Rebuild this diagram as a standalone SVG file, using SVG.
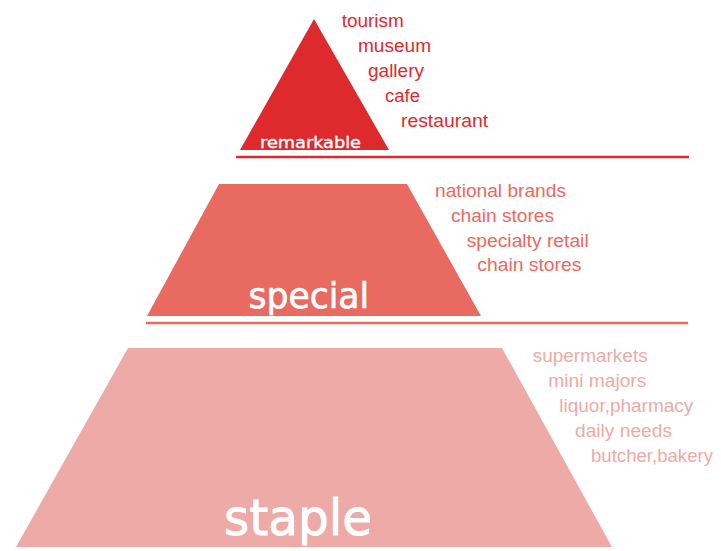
<svg xmlns="http://www.w3.org/2000/svg" width="721" height="551" viewBox="0 0 721 551">
<style>
.lbl{font-family:"DejaVu Sans","Liberation Sans",sans-serif;fill:#ffffff;stroke:#ffffff;}
.it{font-family:"Liberation Sans",Arial,sans-serif;font-size:17.5px;}
.c1{fill:#de292d;}
.c2{fill:#e96a60;}
.c3{fill:#eeaaa6;}
</style>
<rect width="721" height="551" fill="#ffffff"/>
<g id="connectors">
<line x1="236" y1="157" x2="689" y2="157" stroke="#de292d" stroke-width="2.5"/>
<line x1="146" y1="323" x2="688" y2="323" stroke="#e96a60" stroke-width="2.5"/>
</g>
<g id="remarkable">
<polygon class="c1" points="314,19 389,150 240,150"/>
<text class="lbl" x="260" y="148" font-size="16" stroke-width="0.4" textLength="101" lengthAdjust="spacingAndGlyphs">remarkable</text>
<text class="it c1" x="341.7" y="27.3" textLength="62" lengthAdjust="spacingAndGlyphs">tourism</text>
<text class="it c1" x="358" y="52.3" textLength="73" lengthAdjust="spacingAndGlyphs">museum</text>
<text class="it c1" x="368" y="77.3" textLength="56" lengthAdjust="spacingAndGlyphs">gallery</text>
<text class="it c1" x="385" y="102.3" textLength="35" lengthAdjust="spacingAndGlyphs">cafe</text>
<text class="it c1" x="401" y="127.3" textLength="87" lengthAdjust="spacingAndGlyphs">restaurant</text>
</g>
<g id="special">
<polygon class="c2" points="219,184 407,184 481,316 147,316"/>
<text class="lbl" x="248.5" y="308" font-size="36" stroke-width="0.7" textLength="120.5" lengthAdjust="spacingAndGlyphs">special</text>
<text class="it c2" x="435" y="196.7" textLength="131" lengthAdjust="spacingAndGlyphs">national brands</text>
<text class="it c2" x="451" y="221.7" textLength="103" lengthAdjust="spacingAndGlyphs">chain stores</text>
<text class="it c2" x="466.7" y="246.7" textLength="122" lengthAdjust="spacingAndGlyphs">specialty retail</text>
<text class="it c2" x="477.3" y="271.2" textLength="104" lengthAdjust="spacingAndGlyphs">chain stores</text>
</g>
<g id="staple">
<polygon class="c3" points="128,348 502,348 612,547 16,547"/>
<text class="lbl" x="224" y="535" font-size="50" stroke-width="1" textLength="148" lengthAdjust="spacingAndGlyphs">staple</text>
<text class="it c3" x="532.7" y="361.7" textLength="115" lengthAdjust="spacingAndGlyphs">supermarkets</text>
<text class="it c3" x="548.3" y="386.7" textLength="98" lengthAdjust="spacingAndGlyphs">mini majors</text>
<text class="it c3" x="559.3" y="411.7" textLength="134" lengthAdjust="spacingAndGlyphs">liquor,pharmacy</text>
<text class="it c3" x="575" y="436.7" textLength="97" lengthAdjust="spacingAndGlyphs">daily needs</text>
<text class="it c3" x="591" y="461.7" textLength="122" lengthAdjust="spacingAndGlyphs">butcher,bakery</text>
</g>
</svg>
